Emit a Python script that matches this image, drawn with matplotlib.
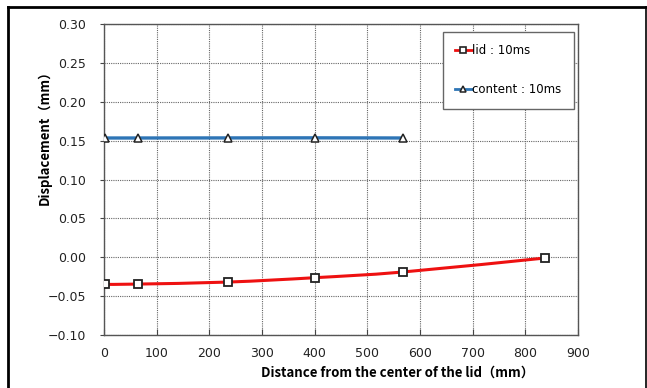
import numpy as np
import matplotlib
matplotlib.use("Agg")
import matplotlib.pyplot as plt
from matplotlib.path import Path
from matplotlib.patches import PathPatch
from matplotlib.lines import Line2D

plt.rcParams['font.family'] = ['DejaVu Sans']

# measured points (mm)
lid_x = [2, 64, 236, 400, 567, 837]
lid_y = [-0.0349, -0.0345, -0.0319, -0.0263, -0.0190, -0.0010]
content_x = [2, 64, 236, 400, 567]
content_y = [0.1534, 0.1534, 0.1535, 0.1536, 0.1534]

xticks = [0, 100, 200, 300, 400, 500, 600, 700, 800, 900]
yticks = [-0.10, -0.05, 0.00, 0.05, 0.10, 0.15, 0.20, 0.25, 0.30]
ytick_labels = ['\u22120.10', '\u22120.05', '0.00', '0.05', '0.10', '0.15',
                '0.20', '0.25', '0.30']

LID_RED = '#ee1111'
CONTENT_BLUE = '#2e75b6'
JP = ['Noto Sans CJK JP', 'DejaVu Sans']


def smooth_path(xs, ys, tension=1 / 6):
    # cubic bezier segments through the points (catmull-rom style, like a smoothed line)
    pts = np.column_stack([xs, ys]).astype(float)
    n = len(pts)
    verts = [pts[0]]
    codes = [Path.MOVETO]
    for i in range(n - 1):
        p0 = pts[i - 1] if i > 0 else pts[i]
        p1 = pts[i]
        p2 = pts[i + 1]
        p3 = pts[i + 2] if i + 2 < n else pts[i + 1]
        c1 = p1 + (p2 - p0) * tension
        c2 = p2 - (p3 - p1) * tension
        verts += [c1, c2, p2]
        codes += [Path.CURVE4] * 3
    return Path(verts, codes)


fig = plt.figure(figsize=(6.47, 3.88), dpi=100)
ax = fig.add_axes([0.1607, 0.1366, 0.7326, 0.8015])

ax.add_patch(PathPatch(smooth_path(lid_x, lid_y), facecolor='none',
                       edgecolor=LID_RED, lw=2.2, zorder=3))
ax.add_patch(PathPatch(smooth_path(content_x, content_y), facecolor='none',
                       edgecolor=CONTENT_BLUE, lw=2.4, zorder=3))
ax.plot(lid_x, lid_y, ls='none', marker='s', ms=5.5, mfc='white', mec='#222222',
        mew=1.3, zorder=4)
ax.plot(content_x, content_y, ls='none', marker='^', ms=5.5, mfc='white',
        mec='#222222', mew=1.1, zorder=4)

# legend proxies
h_lid = Line2D([], [], color=LID_RED, lw=2, marker='s', ms=5, mfc='white',
               mec='#222222', mew=1.2)
h_con = Line2D([], [], color=CONTENT_BLUE, lw=2, marker='^', ms=5, mfc='white',
               mec='#222222', mew=1.1)
leg = ax.legend([h_lid, h_con], ['lid : 10ms', 'content : 10ms'],
                loc='upper right', bbox_to_anchor=(0.9916, 0.974),
                prop={'size': 8.5}, frameon=True, fancybox=False, handlelength=1.4,
                handletextpad=0.05, labelspacing=2.2, borderpad=1.05,
                borderaxespad=0)
leg.get_frame().set_edgecolor('#666666')
leg.get_frame().set_linewidth(1.0)
leg.get_frame().set_alpha(1)

ax.set_xlim(0, 900)
ax.set_ylim(-0.10, 0.30)
ax.set_xticks(xticks)
ax.set_yticks(yticks)
ax.set_yticklabels(ytick_labels)
ax.tick_params(axis='x', direction='in', length=4, labelsize=9, pad=9,
               color='#444444', labelcolor='#222222')
ax.tick_params(axis='y', direction='out', length=3, labelsize=9, pad=10,
               color='#444444', labelcolor='#222222')
ax.grid(True, color='#666666', ls=(0, (1, 1)), lw=0.8)
for s in ax.spines.values():
    s.set_color('#555555')
    s.set_linewidth(1.0)

ax.set_xlabel('Distance from the center of the lid（mm）', fontsize=9.5,
              fontweight='bold', family=JP, ha='center', va='top')
ax.xaxis.set_label_coords(0.62, -0.098)
ax.set_ylabel('Displacement（mm）', fontsize=9.5, fontweight='bold', family=JP,
              va='bottom')
ax.yaxis.set_label_coords(-0.11, 0.646)

# frame around the figure (no bottom edge)
fig.add_artist(Line2D([8 / 647, 8 / 647], [0, 1 - 6.5 / 388], color='black', lw=2,
                      transform=fig.transFigure))
fig.add_artist(Line2D([8 / 647, 645.5 / 647], [1 - 6.5 / 388, 1 - 6.5 / 388],
                      color='black', lw=2, transform=fig.transFigure))
fig.add_artist(Line2D([645.5 / 647, 645.5 / 647], [0, 1 - 6.5 / 388], color='black',
                      lw=1.2, transform=fig.transFigure))

fig.savefig('out.png', dpi=100)
